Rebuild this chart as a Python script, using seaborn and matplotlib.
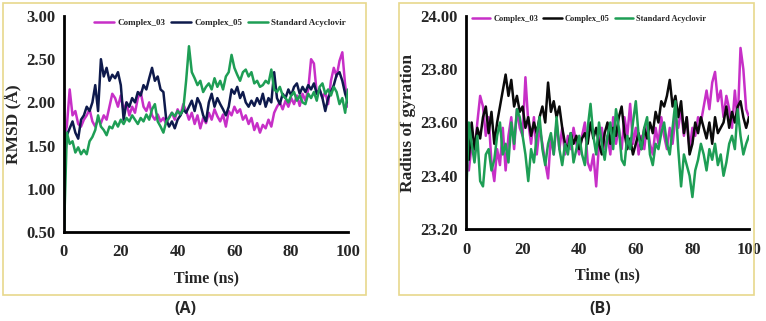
import numpy as np
import pandas as pd
import matplotlib
matplotlib.use('Agg')
import matplotlib.pyplot as plt
import seaborn as sns
from matplotlib.patches import Rectangle

# time axis (ns)
time_ns = list(range(0, 101))

# RMSD (A)
rmsd_c03 = [1.60, 1.72, 2.15, 1.85, 1.90, 1.75, 1.72, 1.80, 1.85, 1.92, 1.78,
            1.72, 1.80, 1.76, 1.85, 1.80, 1.95, 2.10, 2.05, 1.95, 2.08,
            1.90, 2.00, 1.85, 1.95, 1.88, 2.05, 2.12, 1.95, 1.90, 2.00,
            1.85, 1.80, 1.86, 1.78, 1.82, 1.75, 1.83, 1.88, 1.80, 1.92,
            1.85, 1.98, 1.90, 1.80, 1.88, 1.75, 1.85, 1.70, 1.82, 1.76,
            1.88, 1.80, 1.92, 1.84, 1.78, 1.86, 1.72, 1.90, 1.85, 1.95,
            1.88, 1.92, 1.80, 1.85, 1.75, 1.82, 1.68, 1.76, 1.65, 1.74,
            1.70, 1.80, 1.72, 1.88, 1.95, 2.00, 1.92, 2.02, 1.95, 2.05,
            1.98, 2.08, 1.96, 2.10, 2.02, 2.15, 2.50, 2.45, 2.10, 2.15,
            2.05, 2.12, 1.98, 2.25, 2.40, 2.30, 2.48, 2.58, 2.20, 1.95]
rmsd_c05 = [1.20, 1.62, 1.70, 1.78, 1.65, 1.58, 1.80, 1.85, 1.95, 1.90, 2.00,
            2.20, 1.90, 2.50, 2.30, 2.40, 2.25, 2.32, 2.28, 2.35, 2.20,
            1.80, 2.00, 1.95, 2.05, 2.00, 2.12, 2.08, 2.20, 2.15, 2.28,
            2.40, 2.25, 2.30, 2.15, 2.12, 1.80, 1.72, 1.78, 1.70, 1.80,
            1.85, 1.92, 1.88, 1.95, 2.02, 1.90, 2.05, 1.98, 1.85, 1.78,
            2.00, 2.10, 1.95, 2.05, 1.98, 1.92, 1.85, 1.95, 2.15, 2.10,
            2.18, 2.05, 2.12, 2.00, 1.95, 2.02, 1.96, 2.05, 1.98, 2.10,
            1.95, 2.05, 2.00, 2.35, 2.05, 1.98, 2.10, 2.05, 2.15, 2.08,
            2.18, 2.22, 2.10, 2.18, 2.12, 2.20, 2.15, 2.22, 2.10, 2.15,
            2.05, 1.90, 2.05, 2.12, 2.20, 2.32, 2.35, 2.25, 2.10, 2.00]
rmsd_acv = [0.50, 1.65, 1.52, 1.55, 1.42, 1.48, 1.40, 1.45, 1.40, 1.55, 1.60,
            1.68, 1.85, 1.72, 1.68, 1.62, 1.72, 1.70, 1.78, 1.72, 1.80,
            1.75, 1.82, 1.78, 1.85, 1.80, 1.75, 1.82, 1.78, 1.86, 1.80,
            1.92, 1.98, 1.78, 1.72, 1.65, 1.78, 1.82, 1.88, 1.84, 1.90,
            1.86, 1.92, 2.25, 2.65, 2.35, 2.28, 2.20, 2.25, 2.12, 2.18,
            2.22, 2.15, 2.28, 2.18, 2.25, 2.15, 2.30, 2.35, 2.55, 2.40,
            2.32, 2.25, 2.35, 2.38, 2.30, 2.35, 2.22, 2.25, 2.18, 2.20,
            2.25, 2.22, 2.38, 2.15, 2.12, 2.18, 2.08, 2.05, 2.00, 2.08,
            2.12, 2.02, 2.08, 2.00, 1.98, 2.10, 2.05, 2.12, 2.02, 2.18,
            2.22, 2.10, 2.15, 2.08, 2.18, 2.12, 1.98, 2.05, 1.88, 2.15]

# Radius of gyration
rg_c03 = [23.45, 23.42, 23.52, 23.48, 23.60, 23.70, 23.66, 23.55, 23.62, 23.45, 23.38,
          23.50, 23.44, 23.58, 23.42, 23.55, 23.62, 23.50, 23.65, 23.58, 23.55,
          23.77, 23.60, 23.52, 23.62, 23.48, 23.58, 23.52, 23.45, 23.39, 23.55,
          23.48, 23.60, 23.50, 23.58, 23.48, 23.55, 23.50, 23.58, 23.52, 23.48,
          23.55, 23.60, 23.45, 23.42, 23.48, 23.36, 23.52, 23.58, 23.50, 23.55,
          23.48, 23.62, 23.52, 23.58, 23.50, 23.62, 23.55, 23.67, 23.52, 23.58,
          23.48, 23.55, 23.50, 23.60, 23.52, 23.48, 23.58, 23.52, 23.62, 23.55,
          23.50, 23.58, 23.52, 23.62, 23.58, 23.65, 23.55, 23.62, 23.50, 23.58,
          23.55, 23.62, 23.60, 23.66, 23.72, 23.65, 23.75, 23.79, 23.68, 23.72,
          23.62, 23.70, 23.65, 23.58, 23.72, 23.60, 23.88, 23.80, 23.65, 23.62]
rg_c05 = [23.50, 23.46, 23.60, 23.50, 23.58, 23.54, 23.62, 23.66, 23.56, 23.64, 23.52,
          23.60, 23.66, 23.72, 23.78, 23.70, 23.76, 23.66, 23.70, 23.64, 23.66,
          23.58, 23.62, 23.55, 23.60, 23.56, 23.62, 23.66, 23.60, 23.75, 23.64,
          23.68, 23.62, 23.66, 23.58, 23.52, 23.50, 23.56, 23.52, 23.55, 23.50,
          23.54, 23.56, 23.52, 23.60, 23.54, 23.58, 23.52, 23.48, 23.56, 23.60,
          23.52, 23.58, 23.55, 23.62, 23.66, 23.56, 23.50, 23.54, 23.48, 23.52,
          23.56, 23.50, 23.58, 23.54, 23.60, 23.56, 23.64, 23.60, 23.68, 23.66,
          23.70, 23.76, 23.66, 23.70, 23.62, 23.68, 23.56, 23.62, 23.48, 23.52,
          23.60, 23.56, 23.62, 23.58, 23.54, 23.60, 23.52, 23.62, 23.56, 23.58,
          23.60, 23.66, 23.58, 23.64, 23.60, 23.66, 23.68, 23.62, 23.58, 23.62]
rg_acv = [23.30, 23.60, 23.52, 23.45, 23.55, 23.38, 23.36, 23.48, 23.50, 23.42, 23.46,
          23.55, 23.60, 23.48, 23.52, 23.45, 23.60, 23.52, 23.65, 23.62, 23.55,
          23.48, 23.38, 23.50, 23.45, 23.55, 23.62, 23.50, 23.44, 23.52, 23.56,
          23.48, 23.62, 23.50, 23.44, 23.52, 23.48, 23.56, 23.45, 23.50, 23.55,
          23.48, 23.44, 23.58, 23.67, 23.55, 23.48, 23.60, 23.52, 23.46, 23.55,
          23.60, 23.50, 23.65, 23.58, 23.46, 23.44, 23.55, 23.50, 23.60, 23.68,
          23.55, 23.50, 23.58, 23.62, 23.48, 23.44, 23.52, 23.50, 23.56, 23.60,
          23.52, 23.48, 23.58, 23.68, 23.50, 23.36, 23.48, 23.44, 23.40, 23.32,
          23.42, 23.46, 23.52, 23.48, 23.42, 23.50, 23.46, 23.52, 23.44, 23.48,
          23.40, 23.45, 23.52, 23.55, 23.50, 23.65, 23.55, 23.48, 23.52, 23.55]

series_names = ['Complex_03', 'Complex_05', 'Standard Acyclovir']
x_ticks = [0, 20, 40, 60, 80, 100]
rmsd_ticks = [0.50, 1.00, 1.50, 2.00, 2.50, 3.00]
rg_ticks = [23.20, 23.40, 23.60, 23.80, 24.00]

sns.set_style('white')
plt.rcParams['font.family'] = ['Liberation Serif', 'DejaVu Serif']
plt.rcParams['font.weight'] = 'bold'
plt.rcParams['axes.labelweight'] = 'bold'


def long_form(a, b, c):
    return pd.DataFrame({
        'time': time_ns * 3,
        'value': a + b + c,
        'series': [n for n in series_names for _ in time_ns],
    })


def style_axes(ax, yticks, ylabel, legend_x, legend_y, legend_fs):
    sns.despine(ax=ax)
    for s in ['left', 'bottom']:
        ax.spines[s].set_linewidth(2)
        ax.spines[s].set_color('black')
    ax.set_xlim(0, 100)
    ax.set_xticks(x_ticks)
    ax.set_ylim(yticks[0], yticks[-1])
    ax.set_yticks(yticks)
    ax.set_yticklabels([f'{t:.2f}' for t in yticks])
    ax.tick_params(axis='x', direction='in', length=5, width=1.5, labelsize=12, pad=9)
    ax.tick_params(axis='y', direction='in', length=4, width=1.5, labelsize=12, pad=6)
    ax.set_xlabel('Time (ns)', fontsize=11.5, labelpad=7)
    ax.set_ylabel(ylabel, fontsize=12.5, labelpad=3)
    ax.legend(loc='center', bbox_to_anchor=(legend_x, legend_y), ncol=3, frameon=False,
              prop={'family': 'Liberation Serif', 'weight': 'bold', 'size': legend_fs},
              handlelength=2.2, handletextpad=0.4, columnspacing=0.6, borderaxespad=0)


fig = plt.figure(figsize=(7.66, 3.21), dpi=100)

# yellow frames around the panels
for x0, w in [(3 / 766, 363 / 766), (399 / 766, 355 / 766)]:
    fig.patches.append(Rectangle((x0, 26 / 321), w, 292 / 321, transform=fig.transFigure,
                                 fill=False, edgecolor='#E8D88C', linewidth=1.2))

ax1 = fig.add_axes([64 / 766, 89 / 321, 284 / 766, 216 / 321])
ax2 = fig.add_axes([466 / 766, 92 / 321, 283 / 766, 213 / 321])

pal_a = ['#C72FC7', '#0E1A4C', '#1E9E55']
pal_b = ['#C72FC7', '#0A0A0A', '#1E9E55']

sns.lineplot(data=long_form(rmsd_c03, rmsd_c05, rmsd_acv), x='time', y='value',
             hue='series', palette=pal_a, linewidth=1.8, ax=ax1)
sns.lineplot(data=long_form(rg_c03, rg_c05, rg_acv), x='time', y='value',
             hue='series', palette=pal_b, linewidth=1.8, ax=ax2)

style_axes(ax1, rmsd_ticks, 'RMSD (Å)', 0.55, 0.968, 6.5)
style_axes(ax2, rg_ticks, 'Radius of gyration', 0.435, 0.985, 6)

fig.text(185 / 766, 1 - 309 / 321, '(A)', ha='center', va='center',
         fontsize=11.5, fontweight='bold', family='Open Sans')
fig.text(600 / 766, 1 - 309 / 321, '(B)', ha='center', va='center',
         fontsize=11.5, fontweight='bold', family='Open Sans')

fig.savefig('out.png', dpi=100)
